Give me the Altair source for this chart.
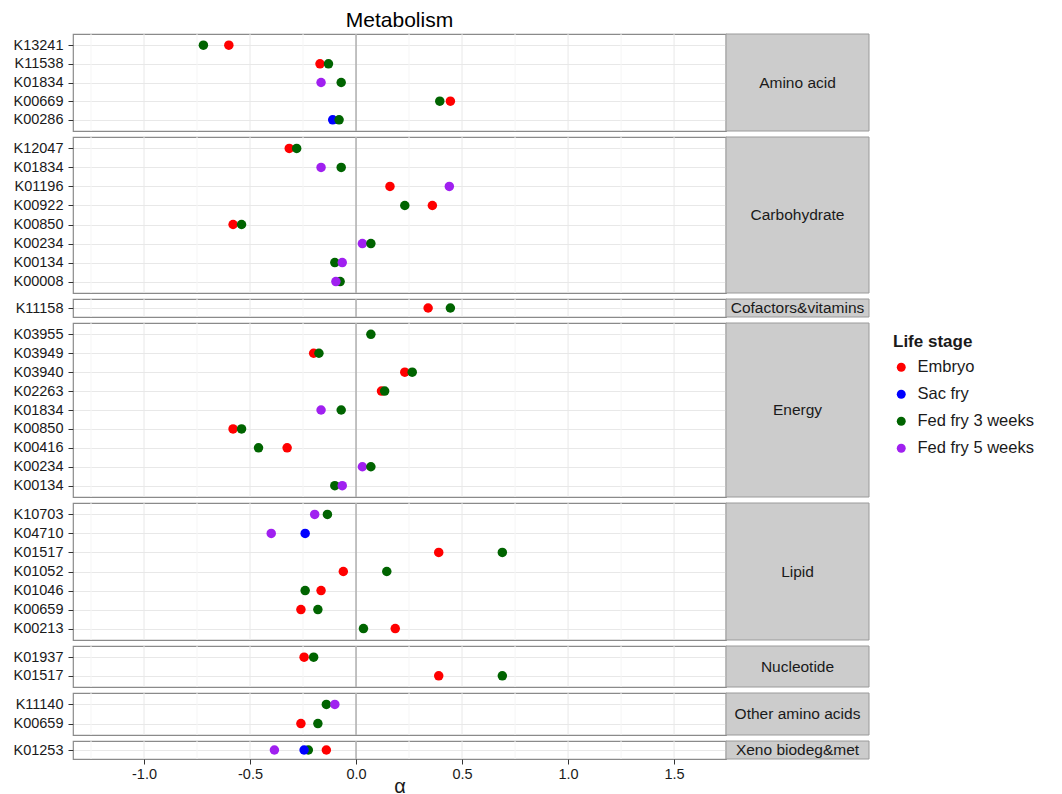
import altair as alt
import pandas as pd

# Per-gene alpha values by life stage, grouped by metabolic pathway.
# Rows within a pathway are listed top to bottom; within a gene, later rows draw on top.
pathway = (
    ["Amino acid"] * 10
    + ["Carbohydrate"] * 16
    + ["Cofactors&vitamins"] * 2
    + ["Energy"] * 17
    + ["Lipid"] * 14
    + ["Nucleotide"] * 4
    + ["Other amino acids"] * 4
    + ["Xeno biodeg&met"] * 4
)
ko = [
    # Amino acid
    "K13241", "K13241", "K11538", "K11538", "K01834", "K01834",
    "K00669", "K00669", "K00286", "K00286",
    # Carbohydrate
    "K12047", "K12047", "K01834", "K01834", "K01196", "K01196",
    "K00922", "K00922", "K00850", "K00850", "K00234", "K00234",
    "K00134", "K00134", "K00008", "K00008",
    # Cofactors&vitamins
    "K11158", "K11158",
    # Energy
    "K03955", "K03949", "K03949", "K03940", "K03940", "K02263", "K02263",
    "K01834", "K01834", "K00850", "K00850", "K00416", "K00416",
    "K00234", "K00234", "K00134", "K00134",
    # Lipid
    "K10703", "K10703", "K04710", "K04710", "K01517", "K01517",
    "K01052", "K01052", "K01046", "K01046", "K00659", "K00659",
    "K00213", "K00213",
    # Nucleotide
    "K01937", "K01937", "K01517", "K01517",
    # Other amino acids
    "K11140", "K11140", "K00659", "K00659",
    # Xeno biodeg&met
    "K01253", "K01253", "K01253", "K01253",
]
stage = [
    # Amino acid
    "Fed fry 3 weeks", "Embryo", "Embryo", "Fed fry 3 weeks",
    "Fed fry 5 weeks", "Fed fry 3 weeks", "Fed fry 3 weeks", "Embryo",
    "Sac fry", "Fed fry 3 weeks",
    # Carbohydrate
    "Embryo", "Fed fry 3 weeks", "Fed fry 5 weeks", "Fed fry 3 weeks",
    "Embryo", "Fed fry 5 weeks", "Fed fry 3 weeks", "Embryo",
    "Embryo", "Fed fry 3 weeks", "Fed fry 5 weeks", "Fed fry 3 weeks",
    "Fed fry 3 weeks", "Fed fry 5 weeks", "Fed fry 3 weeks", "Fed fry 5 weeks",
    # Cofactors&vitamins
    "Embryo", "Fed fry 3 weeks",
    # Energy
    "Fed fry 3 weeks", "Embryo", "Fed fry 3 weeks", "Embryo", "Fed fry 3 weeks",
    "Embryo", "Fed fry 3 weeks", "Fed fry 5 weeks", "Fed fry 3 weeks",
    "Embryo", "Fed fry 3 weeks", "Fed fry 3 weeks", "Embryo",
    "Fed fry 5 weeks", "Fed fry 3 weeks", "Fed fry 3 weeks", "Fed fry 5 weeks",
    # Lipid
    "Fed fry 5 weeks", "Fed fry 3 weeks", "Fed fry 5 weeks", "Sac fry",
    "Embryo", "Fed fry 3 weeks", "Embryo", "Fed fry 3 weeks",
    "Fed fry 3 weeks", "Embryo", "Embryo", "Fed fry 3 weeks",
    "Fed fry 3 weeks", "Embryo",
    # Nucleotide
    "Embryo", "Fed fry 3 weeks", "Embryo", "Fed fry 3 weeks",
    # Other amino acids
    "Fed fry 3 weeks", "Fed fry 5 weeks", "Embryo", "Fed fry 3 weeks",
    # Xeno biodeg&met
    "Fed fry 5 weeks", "Fed fry 3 weeks", "Sac fry", "Embryo",
]
alpha = [
    # Amino acid
    -0.72, -0.60, -0.17, -0.13, -0.165, -0.07, 0.395, 0.445, -0.11, -0.08,
    # Carbohydrate
    -0.315, -0.28, -0.165, -0.07, 0.16, 0.44, 0.23, 0.36,
    -0.58, -0.54, 0.03, 0.07, -0.10, -0.065, -0.075, -0.095,
    # Cofactors&vitamins
    0.34, 0.445,
    # Energy
    0.07, -0.20, -0.175, 0.23, 0.265, 0.12, 0.135, -0.165, -0.07,
    -0.58, -0.54, -0.46, -0.325, 0.03, 0.07, -0.10, -0.065,
    # Lipid
    -0.195, -0.135, -0.40, -0.24, 0.39, 0.69, -0.06, 0.145,
    -0.24, -0.165, -0.26, -0.18, 0.035, 0.185,
    # Nucleotide
    -0.245, -0.20, 0.39, 0.69,
    # Other amino acids
    -0.14, -0.10, -0.26, -0.18,
    # Xeno biodeg&met
    -0.385, -0.225, -0.245, -0.14,
]

stages = ["Embryo", "Sac fry", "Fed fry 3 weeks", "Fed fry 5 weeks"]
stage_colors = ["#ff0000", "#0000ff", "#006400", "#a020f0"]

panels = [
    "Amino acid", "Carbohydrate", "Cofactors&vitamins", "Energy",
    "Lipid", "Nucleotide", "Other amino acids", "Xeno biodeg&met",
]
panel_heights = [97, 156, 18, 174, 137, 41, 42, 18]

major_ticks = [-1.0, -0.5, 0.0, 0.5, 1.0, 1.5]
minor_ticks = [-1.25, -0.75, -0.25, 0.25, 0.75, 1.25]
x_domain = [-1.335, 1.745]

PLOT_W = 653
STRIP_W = 143
FONT = "Liberation Sans"
TEXT = "#1a1a1a"

df = pd.DataFrame({"pathway": pathway, "ko": ko, "stage": stage, "alpha": alpha})

x_scale = alt.Scale(domain=x_domain, nice=False, zero=False)
color_scale = alt.Scale(domain=stages, range=stage_colors)


def build_panel(name, height, is_first, is_last):
    sub = df[df["pathway"] == name]
    order = list(dict.fromkeys(sub["ko"]))

    if is_last:
        x_axis = alt.Axis(
            values=major_ticks, format=".1f", title="α",
            labelExpr="replace(datum.label, '\u2212', '-')",
            labelFontSize=14.5, labelColor=TEXT, labelPadding=3,
            tickSize=5, tickColor="#333333", domain=False, grid=False,
            titleFontSize=20, titleFontWeight="normal", titleColor=TEXT,
            titlePadding=-4,
        )
        x_title = "α"
    else:
        x_axis = None
        x_title = None

    def vrules(values, color, width):
        return (
            alt.Chart(pd.DataFrame({"v": values}))
            .mark_rule(color=color, strokeWidth=width)
            .encode(x=alt.X("v:Q", scale=x_scale, axis=x_axis, title=x_title))
        )

    minor = vrules(minor_ticks, "#f5f5f5", 1)
    major = vrules(major_ticks, "#e8e8e8", 1)
    zero = vrules([0.0], "#a6a6a6", 1.3)

    points = (
        alt.Chart(sub)
        .mark_circle(size=90, opacity=1)
        .encode(
            x=alt.X("alpha:Q", scale=x_scale, axis=x_axis, title=x_title),
            y=alt.Y(
                "ko:N", sort=order, scale=alt.Scale(padding=0.6),
                axis=alt.Axis(
                    title=None, labelFontSize=14.5, labelColor=TEXT,
                    labelPadding=5, tickSize=5, tickColor="#333333",
                    domain=False, grid=True, gridColor="#e8e8e8",
                ),
            ),
            color=alt.Color(
                "stage:N", scale=color_scale,
                legend=alt.Legend(
                    title="Life stage", orient="none", legendX=820, legendY=300,
                    titleFontSize=17, titleFontWeight="bold", titleColor=TEXT,
                    labelFontSize=16.5, labelColor=TEXT, symbolType="circle",
                    symbolSize=80, symbolStrokeWidth=0, rowPadding=10,
                    labelOffset=8, titlePadding=8,
                ),
            ),
        )
    )
    label_df = pd.DataFrame({"label": [name]})
    strip_bg = (
        alt.Chart(label_df)
        .mark_rect(fill="#cccccc", stroke="#9a9a9a", strokeWidth=1)
        .encode(
            x=alt.value(PLOT_W), x2=alt.value(PLOT_W + STRIP_W),
            y=alt.value(0), y2=alt.value(height),
        )
    )
    strip_text = (
        alt.Chart(label_df)
        .mark_text(fontSize=15.5, color=TEXT, font=FONT, baseline="middle", align="center")
        .encode(
            x=alt.value(PLOT_W + STRIP_W / 2), y=alt.value(height / 2), text="label:N",
        )
    )
    layer = alt.layer(minor, major, zero, points, strip_bg, strip_text).properties(
        width=PLOT_W, height=height
    )
    if is_first:
        layer = layer.properties(
            title=alt.TitleParams(
                "Metabolism", fontSize=21, fontWeight="normal", color="#000000",
                anchor="middle", offset=2,
            )
        )
    return layer


charts = [
    build_panel(name, h, i == 0, i == len(panels) - 1)
    for i, (name, h) in enumerate(zip(panels, panel_heights))
]

chart = (
    alt.vconcat(*charts, spacing=2)
    .properties(padding={"left": 12, "top": 9, "right": 5, "bottom": 5})
    .configure(font=FONT)
    .configure_view(stroke="#8a8a8a", strokeWidth=1.2)
)

chart.save("out.html", embed_options={"renderer": "svg", "actions": False})
